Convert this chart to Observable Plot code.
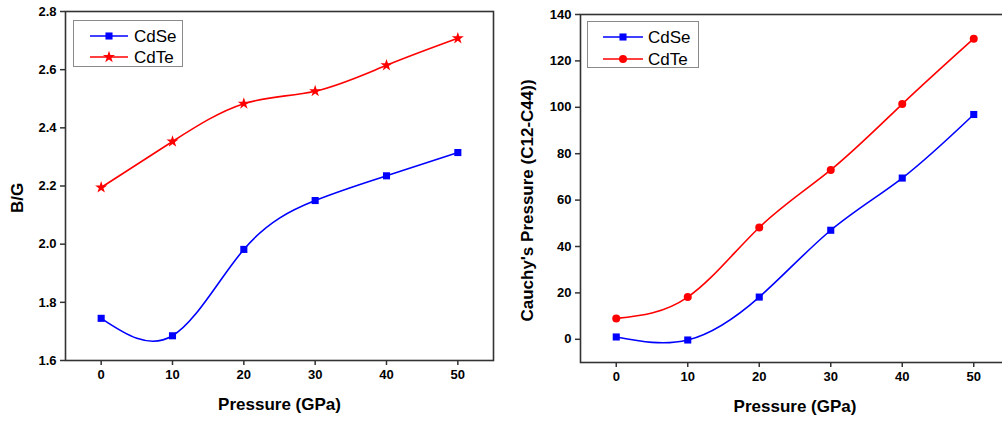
<!DOCTYPE html>
<html><head><meta charset="utf-8">
<script src="https://cdn.jsdelivr.net/npm/d3@7"></script>
<script src="https://cdn.jsdelivr.net/npm/@observablehq/plot@0.6"></script>
<style>
html,body{margin:0;padding:0;background:#fff;overflow:hidden;width:1002px;height:421px;}
#wrap{position:relative;width:1002px;height:421px;overflow:hidden;font-family:"Liberation Sans",Arial,sans-serif;}
.panel{position:absolute;top:0;}
.legend{position:absolute;box-sizing:border-box;border:1px solid #8a8a8a;background:#fff;}
.legend svg{display:block;overflow:visible;}
</style></head><body><div id="wrap"></div>
<script>
// ---- data ----
const pressure = [0, 10, 20, 30, 40, 50];
const series = ["CdSe", "CdTe"];
const colors = ["#0000ff", "#ff0000"];
// left panel: B/G
const bgCdSe = [1.745, 1.685, 1.982, 2.150, 2.235, 2.315];
const bgCdTe = [2.195, 2.353, 2.483, 2.526, 2.615, 2.708];
// right panel: Cauchy's pressure
const cpCdSe = [1.0, -0.3, 18.2, 47.0, 69.5, 96.9];
const cpCdTe = [9.0, 18.2, 48.2, 73.0, 101.4, 129.6];
// ticks and labels
const xTicks = [0, 10, 20, 30, 40, 50];
const bgTicks = [1.6, 1.8, 2.0, 2.2, 2.4, 2.6, 2.8];
const cpTicks = [0, 20, 40, 60, 80, 100, 120, 140];
const xTitle = "Pressure (GPa)";
const bgTitle = "B/G";
const cpTitle = "Cauchy's Pressure (C12-C44))";

const FONT = '"Liberation Sans", Arial, sans-serif';
const wrap = document.getElementById("wrap");

function makePanel(o) {
  const se = pressure.map((p, i) => ({p, v: o.cdse[i]}));
  const te = pressure.map((p, i) => ({p, v: o.cdte[i]}));
  const chart = Plot.plot({
    width: o.width, height: 421,
    marginLeft: o.mL, marginRight: o.mR, marginTop: o.mT, marginBottom: o.mB,
    style: {fontFamily: FONT, fontSize: "13px", fontWeight: "bold", color: "#000", background: "transparent", overflow: "visible"},
    x: {domain: [-5, 55]},
    y: {domain: o.yDomain},
    marks: [
      Plot.axisX({ticks: xTicks, tickSize: 5, tickPadding: 4, label: null, stroke: "#333", strokeWidth: 1.5}),
      Plot.axisY({ticks: o.yTicks, tickFormat: o.yFmt, tickSize: 5, tickPadding: 4, label: null, stroke: "#333", strokeWidth: 1.5}),
      Plot.frame({stroke: "#333", strokeWidth: 1.6}),
      Plot.line(se, {x: "p", y: "v", stroke: colors[0], strokeWidth: 1.6, curve: "natural"}),
      Plot.line(te, {x: "p", y: "v", stroke: colors[1], strokeWidth: 1.6, curve: "natural"}),
      Plot.dot(se, {x: "p", y: "v", symbol: "square", r: 4, fill: colors[0], stroke: "none"}),
      Plot.dot(te, {x: "p", y: "v", symbol: o.teSymbol, r: o.teR, fill: colors[1], stroke: "none"}),
      Plot.text([xTitle], {text: d => d, frameAnchor: "bottom", textAnchor: "middle", dy: 49, fontSize: 17, fontWeight: "bold", fill: "#000"}),
      Plot.text([o.yTitle], {text: d => d, frameAnchor: "left", textAnchor: "middle", lineAnchor: "middle", rotate: -90, dx: o.yTitleDx, dy: o.yTitleDy, fontSize: 17, fontWeight: "bold", fill: "#000"})
    ]
  });
  chart.classList.add("panel");
  chart.style.left = o.left + "px";
  wrap.appendChild(chart);

  // legend
  const lg = o.legend;
  const box = document.createElement("div");
  box.className = "legend";
  box.style.left = lg.left + "px"; box.style.top = lg.top + "px";
  box.style.width = lg.w + "px"; box.style.height = lg.h + "px";
  wrap.appendChild(box);
  const svg = d3.select(box).append("svg").attr("width", lg.w - 2).attr("height", lg.h - 2);
  const syms = [d3.symbolSquare, o.teSymbol === "star" ? d3.symbolStar : d3.symbolCircle];
  const rs = [4, o.teR];
  series.forEach((name, i) => {
    const y = lg.rows[i];
    svg.append("line").attr("x1", lg.x0).attr("x2", lg.x1).attr("y1", y).attr("y2", y)
      .attr("stroke", colors[i]).attr("stroke-width", 1.6);
    svg.append("path").attr("d", d3.symbol(syms[i], Math.PI * rs[i] * rs[i])())
      .attr("transform", `translate(${(lg.x0 + lg.x1) / 2},${y})`).attr("fill", colors[i]);
    svg.append("text").attr("x", lg.tx).attr("y", y).attr("dy", "0.35em")
      .attr("font-family", FONT).attr("font-size", 17).attr("fill", "#000").text(name);
  });
}

makePanel({
  cdse: bgCdSe, cdte: bgCdTe, yDomain: [1.6, 2.8], yTicks: bgTicks, yFmt: d3.format(".1f"),
  yTitle: bgTitle, yTitleDx: -48, yTitleDy: 12, teSymbol: "star", teR: 3.8,
  width: 500, mL: 65, mR: 7, mT: 11, mB: 61, left: 0,
  legend: {left: 73, top: 20, w: 110, h: 47, x0: 16, x1: 54, tx: 60, rows: [15, 36]}
});
makePanel({
  cdse: cpCdSe, cdte: cpCdTe, yDomain: [-10, 140], yTicks: cpTicks, yFmt: d3.format("d"),
  yTitle: cpTitle, yTitleDx: -53, yTitleDy: 12, teSymbol: "circle", teR: 4,
  width: 520, mL: 80, mR: 11, mT: 14, mB: 59, left: 500,
  legend: {left: 587, top: 21, w: 112, h: 47, x0: 15, x1: 55, tx: 60, rows: [15, 37]}
});
</script></body></html>
